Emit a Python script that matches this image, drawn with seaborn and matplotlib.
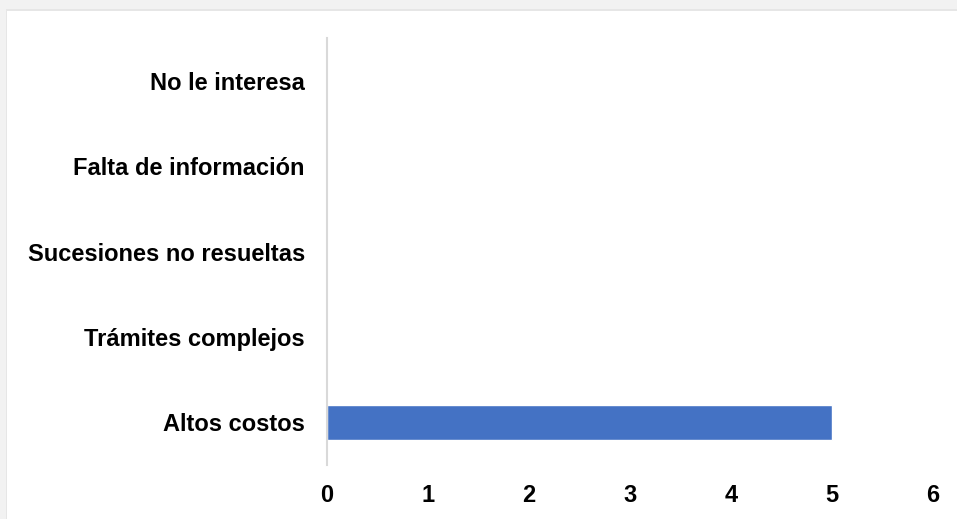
import matplotlib
matplotlib.use("Agg")
import matplotlib.pyplot as plt
import matplotlib.patches as mpatches
import seaborn as sns
import pandas as pd

categorias = ["No le interesa", "Falta de información", "Sucesiones no resueltas",
              "Trámites complejos", "Altos costos"]
valores = [0, 0, 0, 0, 5]
ticks_x = [0, 1, 2, 3, 4, 5, 6]

df = pd.DataFrame({"categoria": categorias, "valor": valores})

sns.set_theme(style="white")
plt.rcParams["font.family"] = ["Liberation Sans", "DejaVu Sans"]

W, H = 957, 519
fig = plt.figure(figsize=(W / 100, H / 100), dpi=100)
fig.patch.set_facecolor("#f2f2f2")

# white chart area with a faint shadow edge at top/left
fig.patches.append(mpatches.Rectangle((6 / W, 0), 1, 1 - 9 / H, transform=fig.transFigure,
                                      facecolor="#e6e6e6", edgecolor="none", zorder=-2))
fig.patches.append(mpatches.Rectangle((7 / W, 0), 1, 1 - 11 / H, transform=fig.transFigure,
                                      facecolor="white", edgecolor="none", zorder=-1))

ax = fig.add_axes([327 / W, 1 - 465 / H, (933 - 327) / W, (465 - 38) / H])
ax.set_facecolor("none")

sns.barplot(data=df, y="categoria", x="valor", color="#4472c4", saturation=1,
            width=0.41, ax=ax, orient="h")

ax.set_xlim(0, 6)
ax.set_xticks(ticks_x)
ax.set_xlabel("")
ax.set_ylabel("")
for s in ["top", "right", "bottom"]:
    ax.spines[s].set_visible(False)
ax.spines["left"].set_color("#d9d9d9")
ax.spines["left"].set_linewidth(1.5)
ax.tick_params(axis="both", length=0, labelsize=17)
ax.tick_params(axis="y", pad=16)
ax.tick_params(axis="x", pad=14)
for lbl in ax.get_xticklabels() + ax.get_yticklabels():
    lbl.set_fontweight("bold")
    lbl.set_color("black")

fig.savefig("out.png", dpi=100, facecolor=fig.get_facecolor())
